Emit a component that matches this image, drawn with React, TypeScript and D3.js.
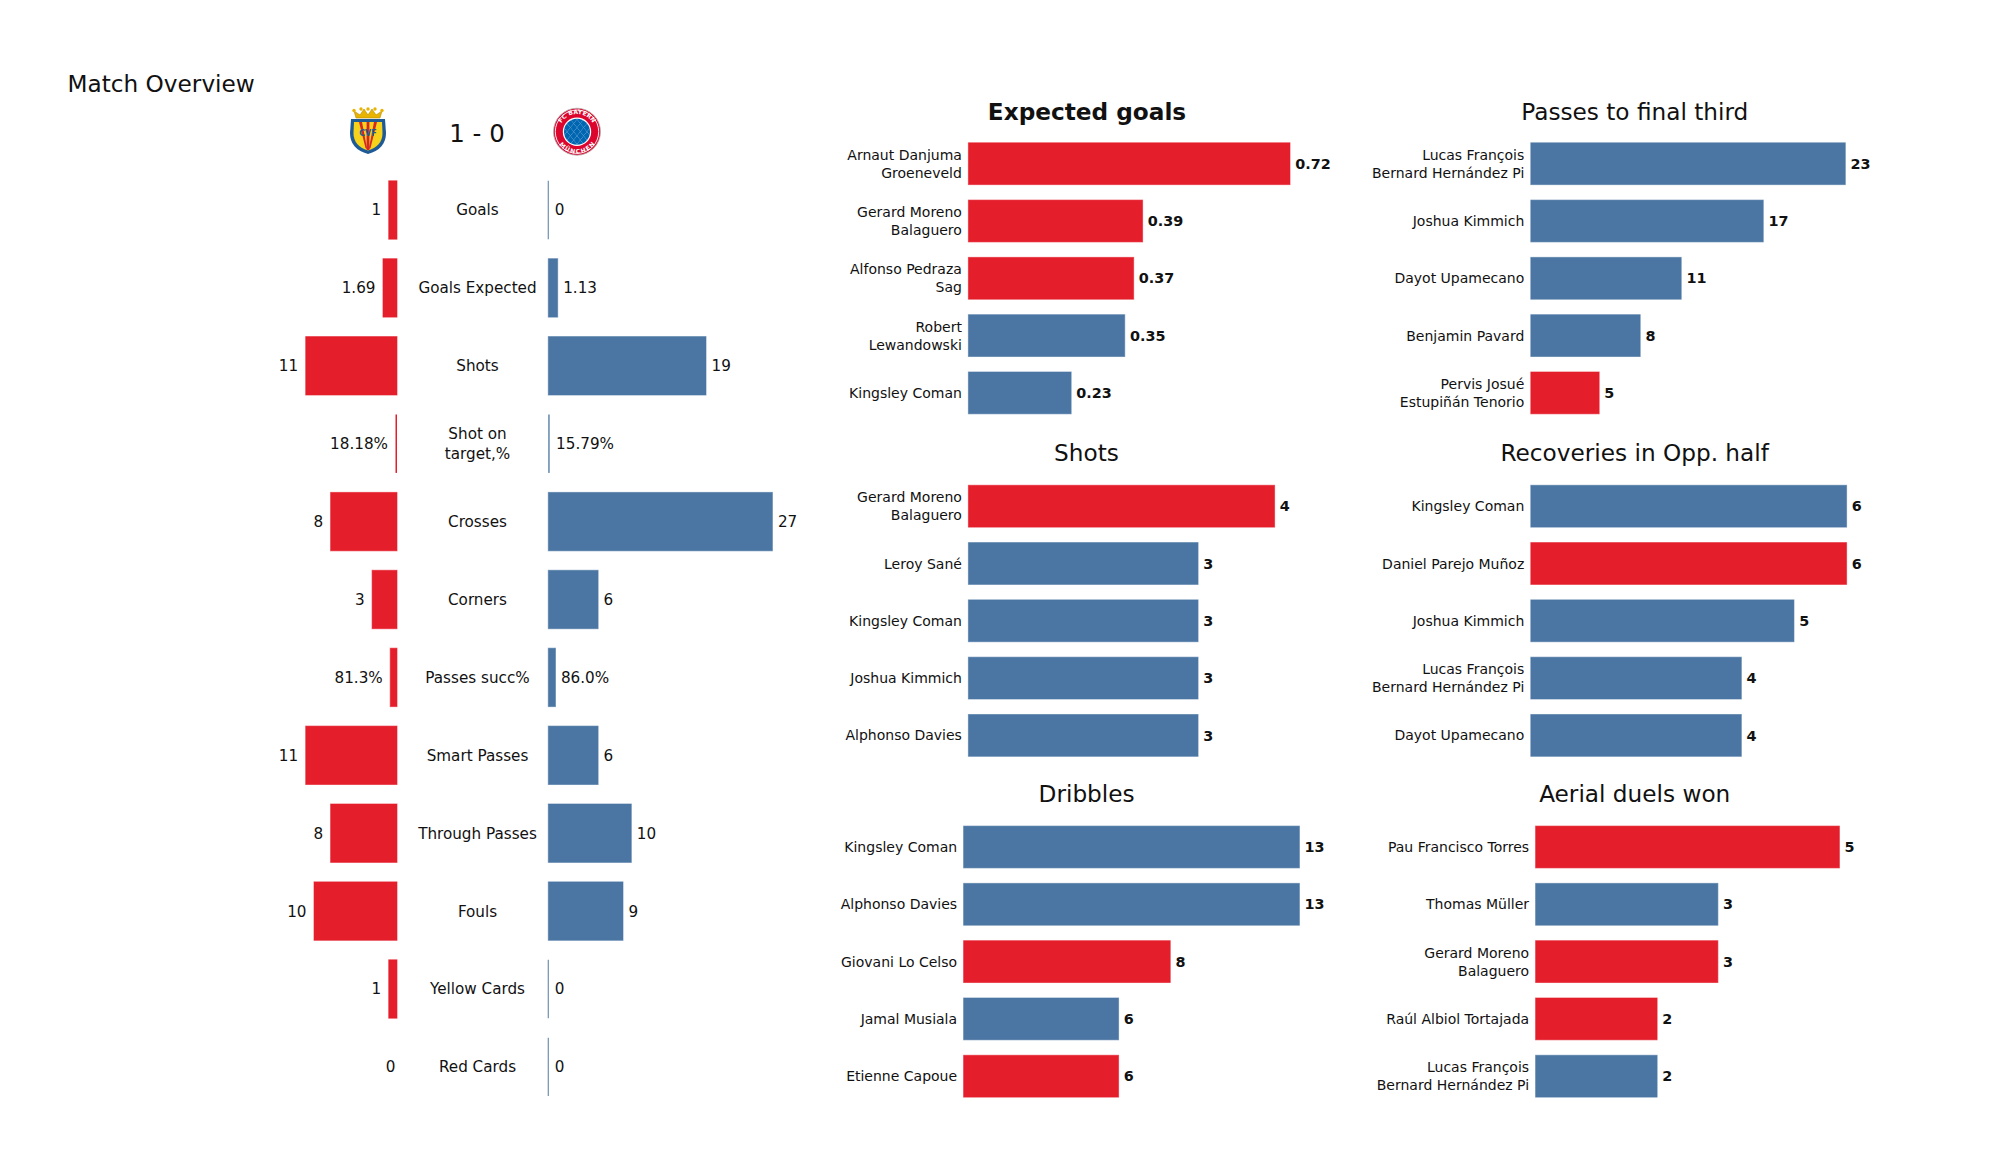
import React from "react";
import * as d3 from "d3";

// ---------- DATA ----------
const overviewCategories = [
  "Goals", "Goals Expected", "Shots", "Shot on\ntarget,%", "Crosses", "Corners",
  "Passes succ%", "Smart Passes", "Through Passes", "Fouls", "Yellow Cards", "Red Cards",
];
const homeValues = [1, 1.69, 11, 0.1818, 8, 3, 0.813, 11, 8, 10, 1, 0];
const awayValues = [0, 1.13, 19, 0.1579, 27, 6, 0.86, 6, 10, 9, 0, 0];
const homeLabels = ["1", "1.69", "11", "18.18%", "8", "3", "81.3%", "11", "8", "10", "1", "0"];
const awayLabels = ["0", "1.13", "19", "15.79%", "27", "6", "86.0%", "6", "10", "9", "0", "0"];
const scoreText = "1 - 0";

const xgPlayers = ["Arnaut Danjuma\nGroeneveld", "Gerard Moreno\nBalaguero", "Alfonso Pedraza\nSag", "Robert\nLewandowski", "Kingsley Coman"];
const xgValues = [0.72, 0.39, 0.37, 0.35, 0.23];
const xgTeams = ["h", "h", "h", "a", "a"];

const passesPlayers = ["Lucas François\nBernard Hernández Pi", "Joshua Kimmich", "Dayot Upamecano", "Benjamin Pavard", "Pervis Josué\nEstupiñán Tenorio"];
const passesValues = [23, 17, 11, 8, 5];
const passesTeams = ["a", "a", "a", "a", "h"];

const shotsPlayers = ["Gerard Moreno\nBalaguero", "Leroy Sané", "Kingsley Coman", "Joshua Kimmich", "Alphonso Davies"];
const shotsValues = [4, 3, 3, 3, 3];
const shotsTeams = ["h", "a", "a", "a", "a"];

const recPlayers = ["Kingsley Coman", "Daniel Parejo Muñoz", "Joshua Kimmich", "Lucas François\nBernard Hernández Pi", "Dayot Upamecano"];
const recValues = [6, 6, 5, 4, 4];
const recTeams = ["a", "h", "a", "a", "a"];

const dribPlayers = ["Kingsley Coman", "Alphonso Davies", "Giovani Lo Celso", "Jamal Musiala", "Etienne Capoue"];
const dribValues = [13, 13, 8, 6, 6];
const dribTeams = ["a", "a", "h", "a", "h"];

const aerialPlayers = ["Pau Francisco Torres", "Thomas Müller", "Gerard Moreno\nBalaguero", "Raúl Albiol Tortajada", "Lucas François\nBernard Hernández Pi"];
const aerialValues = [5, 3, 3, 2, 2];
const aerialTeams = ["h", "a", "h", "h", "a"];

// ---------- STYLE / LAYOUT ----------
const RED = "#E51E2C";
const BLUE = "#4B76A3";
const TEXT = "#111";
const FONT = "'DejaVu Sans', Verdana, sans-serif";

type Panel = {
  title: string; bold?: boolean; players: string[]; values: number[]; teams: string[];
  fmt: (v: number) => string; x0: number; xMax: number; cx: number; titleY: number; top: number;
};

const STEP = 57.3;
const panels: Panel[] = [
  { title: "Expected goals", bold: true, players: xgPlayers, values: xgValues, teams: xgTeams, fmt: (v) => v.toFixed(2), x0: 968.4, xMax: 1290, cx: 1087, titleY: 119.5, top: 163.7 },
  { title: "Passes to final third", players: passesPlayers, values: passesValues, teams: passesTeams, fmt: (v) => String(v), x0: 1530.8, xMax: 1845.3, cx: 1634.8, titleY: 119.5, top: 163.7 },
  { title: "Shots", players: shotsPlayers, values: shotsValues, teams: shotsTeams, fmt: (v) => String(v), x0: 968.4, xMax: 1274.6, cx: 1086.5, titleY: 461, top: 506.2 },
  { title: "Recoveries in Opp. half", players: recPlayers, values: recValues, teams: recTeams, fmt: (v) => String(v), x0: 1530.8, xMax: 1846.6, cx: 1634.7, titleY: 461, top: 506.2 },
  { title: "Dribbles", players: dribPlayers, values: dribValues, teams: dribTeams, fmt: (v) => String(v), x0: 963.6, xMax: 1299.4, cx: 1086.6, titleY: 801.7, top: 847 },
  { title: "Aerial duels won", players: aerialPlayers, values: aerialValues, teams: aerialTeams, fmt: (v) => String(v), x0: 1535.6, xMax: 1839.4, cx: 1634.7, titleY: 801.7, top: 847 },
];

function PlayerPanel({ p }: { p: Panel }) {
  const max = d3.max(p.values) as number;
  const x = d3.scaleLinear().domain([0, max]).range([p.x0, p.xMax]);
  const y = d3.scaleBand<string>()
    .domain(p.players.map((_, i) => String(i)))
    .range([p.top - STEP / 2, p.top + 4 * STEP + STEP / 2])
    .paddingInner(0.27).paddingOuter(0.135);
  return (
    <g>
      <text x={p.cx} y={p.titleY} textAnchor="middle" fontSize={23.2} fontWeight={p.bold ? "bold" : "normal"} fill={TEXT}>{p.title}</text>
      {p.values.map((v, i) => {
        const yy = y(String(i)) as number;
        const h = y.bandwidth();
        const cy = yy + h / 2;
        const color = p.teams[i] === "h" ? RED : BLUE;
        const lines = p.players[i].split("\n");
        return (
          <g key={i}>
            <rect x={x(0)} y={yy} width={x(v) - x(0)} height={h} fill={color} stroke={color} strokeOpacity={0.6} strokeWidth={1} />
            <text x={x(v) + 5.2} y={cy} dy="0.36em" fontSize={14.4} fontWeight="bold" fill={TEXT}>{p.fmt(v)}</text>
            {lines.map((ln, j) => (
              <text key={j} x={x(0) - 6.5} y={cy + (j - (lines.length - 1) / 2) * 18.2} dy="0.36em" textAnchor="end" fontSize={14} fill={TEXT}>{ln}</text>
            ))}
          </g>
        );
      })}
    </g>
  );
}

function Overview() {
  const RED_EDGE = 397;
  const BLUE_EDGE = 548.3;
  const CENTER = 477.5;
  const maxV = d3.max([...homeValues, ...awayValues]) as number;
  const w = d3.scaleLinear().domain([0, maxV]).range([0, 27 * 8.3]);
  const step = 77.9;
  const y = d3.scaleBand<string>()
    .domain(overviewCategories)
    .range([210 - step / 2, 210 + 11 * step + step / 2])
    .paddingInner(0.25).paddingOuter(0.125);
  return (
    <g>
      {overviewCategories.map((c, i) => {
        const yy = y(c) as number;
        const h = y.bandwidth();
        const cy = yy + h / 2;
        const hv = homeValues[i];
        const av = awayValues[i];
        const hw = w(hv);
        const aw = w(av);
        const lines = c.split("\n");
        return (
          <g key={c}>
            {hv > 0 && <rect x={RED_EDGE - hw} y={yy} width={hw} height={h} fill={RED} stroke={RED} strokeOpacity={0.6} strokeWidth={hw > 3 ? 1 : 0} />}
            {av > 0 ? (
              <rect x={BLUE_EDGE} y={yy} width={aw} height={h} fill={BLUE} stroke={BLUE} strokeOpacity={0.6} strokeWidth={aw > 3 ? 1 : 0} />
            ) : (
              <line x1={BLUE_EDGE} x2={BLUE_EDGE} y1={yy} y2={yy + h} stroke={BLUE} strokeOpacity={0.8} strokeWidth={1.2} />
            )}
            <text x={RED_EDGE - hw - (hv > 0 ? 7.5 : 1.7)} y={cy} dy="0.36em" textAnchor="end" fontSize={15.2} fill={TEXT}>{homeLabels[i]}</text>
            <text x={BLUE_EDGE + aw + (av > 0.5 ? 5.5 : 6.5)} y={cy} dy="0.36em" fontSize={15.2} fill={TEXT}>{awayLabels[i]}</text>
            {lines.map((ln, j) => (
              <text key={j} x={CENTER} y={cy + (j - (lines.length - 1) / 2) * 20.5} dy="0.36em" textAnchor="middle" fontSize={15.2} fill={TEXT}>{ln}</text>
            ))}
          </g>
        );
      })}
    </g>
  );
}

function VillarrealLogo({ cx, cy }: { cx: number; cy: number }) {
  return (
    <g transform={`translate(${cx},${cy})`}>
      {/* crown */}
      <path d="M-12,-13 L-14,-20 L-8,-16 L-4,-22 L0,-16 L4,-22 L8,-16 L14,-20 L12,-13 Z" fill="#E8B400" stroke="#B88A00" strokeWidth={0.6} />
      {[-14, -7, 0, 7, 14].map((dx) => <circle key={dx} cx={dx} cy={Math.abs(dx) === 14 ? -20.5 : -22} r={1.7} fill="#E8B400" />)}
      {/* shield */}
      <path d="M-17,-12 L17,-12 L18,2 Q18,18 0,23 Q-18,18 -18,2 Z" fill="#1E5A96" />
      <path d="M-14,-9 L14,-9 L14.5,2 Q14.5,15 0,19.5 Q-14.5,15 -14.5,2 Z" fill="#F6D21A" />
      <path d="M-9,-9 L-2.5,17 L-0.8,18 L-6,-9 Z" fill="#D5262B" />
      <path d="M9,-9 L2.5,17 L0.8,18 L6,-9 Z" fill="#D5262B" />
      <path d="M-1.4,-9 L1.4,-9 L1.4,19 L-1.4,19 Z" fill="#D5262B" />
      <text x={0} y={5} textAnchor="middle" fontSize={8} fontWeight="bold" fill="#1E5A96" fontFamily={FONT}>CVF</text>
    </g>
  );
}

function BayernLogo({ cx, cy }: { cx: number; cy: number }) {
  const r = 23.5;
  const diamonds: JSX.Element[] = [];
  const s = 3.3;
  for (let i = -5; i <= 5; i++) {
    for (let j = -5; j <= 5; j++) {
      if ((i + j) % 2 !== 0) continue;
      const x = i * s;
      const y = j * s * 1.25;
      diamonds.push(<path key={`${i}_${j}`} d={`M${x},${y - s * 1.25} L${x + s},${y} L${x},${y + s * 1.25} L${x - s},${y} Z`} fill="#0066B2" />);
    }
  }
  return (
    <g transform={`translate(${cx},${cy})`}>
      <defs>
        <clipPath id="bayernClip"><circle r={13} /></clipPath>
        <path id="bayernArc" d={`M${-17.5},0 A17.5,17.5 0 0,1 ${17.5},0`} />
        <path id="bayernArc2" d={`M${-17.5},0 A17.5,17.5 0 0,0 ${17.5},0`} />
      </defs>
      <circle r={r} fill="#DC052D" stroke="#b5b5b5" strokeWidth={0.8} />
      <circle r={r - 1.8} fill="none" stroke="#fff" strokeWidth={0.9} />
      <circle r={14.2} fill="#fff" />
      <g clipPath="url(#bayernClip)">
        <circle r={13} fill="#fff" />
        {diamonds}
      </g>
      <text fontSize={6} fill="#fff" fontWeight="bold" fontFamily={FONT} dy="-0.3">
        <textPath href="#bayernArc" startOffset="50%" textAnchor="middle">FC BAYERN</textPath>
      </text>
      <text fontSize={6} fill="#fff" fontWeight="bold" fontFamily={FONT} dy="4.3">
        <textPath href="#bayernArc2" startOffset="50%" textAnchor="middle">MÜNCHEN</textPath>
      </text>
    </g>
  );
}

export default function App() {
  return (
    <svg
      width={2000}
      height={1175}
      viewBox="0 0 2000 1175"
      style={{ position: "absolute", left: 0, top: 0, background: "#fff", display: "block" }}
      fontFamily={FONT}
    >
      <rect x={0} y={0} width={2000} height={1175} fill="#fff" />
      <text x={67.5} y={91.7} fontSize={23.2} fill={TEXT}>Match Overview</text>
      <VillarrealLogo cx={368} cy={131} />
      <text x={477} y={141.5} textAnchor="middle" fontSize={24.5} fill={TEXT}>{scoreText}</text>
      <BayernLogo cx={577} cy={131.7} />
      <Overview />
      {panels.map((p) => <PlayerPanel key={p.title} p={p} />)}
    </svg>
  );
}
